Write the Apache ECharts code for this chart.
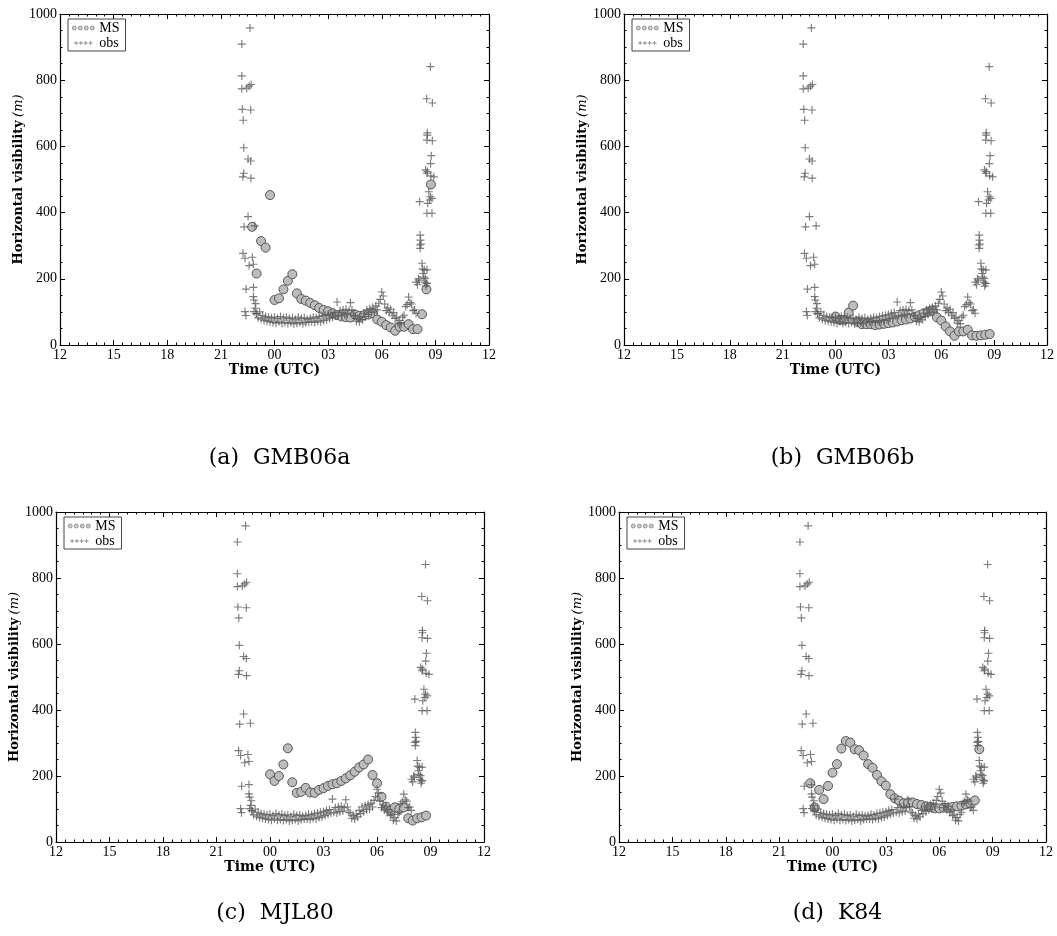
<!DOCTYPE html>
<html>
<head>
<meta charset="utf-8">
<script src="https://cdn.jsdelivr.net/npm/echarts@6/dist/echarts.min.js"></script>
<style>
html,body{margin:0;padding:0;background:#fff;}
#chart{width:1057px;height:936px;}
</style>
</head>
<body>
<div id="chart"></div>
<script>
// ---------- DATA ----------
// time axis in hours since 12 UTC of day 1 (24 = 00 UTC, 36 = 12 UTC next day)
var xTickLabels = ['12','15','18','21','00','03','06','09','12'];
var yTickLabels = ['0','200','400','600','800','1000'];
var panelCaptions = ['(a)  GMB06a', '(b)  GMB06b', '(c)  MJL80', '(d)  K84'];

// MS model output every 15 minutes
var msTimes = [22.75,23,23.25,23.5,23.75,24,24.25,24.5,24.75,25,25.25,25.5,25.75,26,26.25,26.5,26.75,27,27.25,27.5,27.75,
               28,28.25,28.5,28.75,29,29.25,29.5,29.75,30,30.25,30.5,30.75,31,31.25,31.5,31.75,32,32.25,32.5,32.75];
var msGMB06a = [357,216,314,294,453,136,141,168,194,214,156,139,134,127,120,112,106,102,96,90,86,
                84,83,92,88,90,92,96,77,70,60,53,43,55,55,63,48,48,93,168,485];
var msGMB06b = [null,null,null,null,null,86,76,76,98,119,70,63,63,63,60,62,64,66,68,71,75,
                77,80,85,90,96,101,104,84,74,56,41,28,41,41,46,29,28,29,31,33];
var msMJL80  = [null,null,null,null,null,205,185,200,235,284,181,149,152,164,150,149,158,163,170,175,178,
                185,193,202,213,226,235,250,203,178,137,107,95,105,100,105,72,65,72,75,80];
var msK84    = [178,105,158,130,170,210,236,283,306,301,281,278,262,236,225,203,184,171,145,132,125,
                117,120,120,115,112,108,106,102,102,104,104,106,108,110,114,117,126,281,null,null];

// observations: scattered points at fog onset and dissipation
var obsOnset = [[22.63,958],[22.17,909],[22.17,813],[22.17,774],[22.45,776],[22.58,782],[22.69,787],[22.2,712],[22.67,710],
  [22.25,679],[22.28,596],[22.52,562],[22.67,556],[22.28,519],[22.23,508],[22.68,504],[22.52,388],[22.3,357],[22.9,360],
  [22.24,277],[22.35,262],[22.76,265],[22.58,240],[22.82,244],[22.41,169],[22.82,174],[22.82,146],[22.85,136],[22.35,101],
  [22.4,89],[22.92,111],[22.85,101],[22.95,125],[22.97,95]];
var obsDissipation = [[31.93,190],[32.0,182],[32.05,200],[32.1,196],[32.12,433],[32.13,302],[32.15,332],[32.15,292],[32.17,317],
  [32.2,305],[32.25,247],[32.28,230],[32.31,216],[32.35,205],[32.38,227],[32.41,190],[32.44,201],[32.47,178],[32.5,185],
  [32.53,227],[32.53,186],[32.45,529],[32.55,524],[32.75,511],[32.53,519],[32.91,508],[32.57,428],[32.63,463],[32.68,438],
  [32.72,448],[32.81,443],[32.53,398],[32.81,398],[32.73,548],[32.77,572],[32.55,641],[32.55,634],[32.53,619],[32.83,617],
  [32.51,744],[32.83,731],[32.72,841]];
// observations: dense fog period, every 5 minutes from 23:00 UTC
var obsBandStart = 23.0;
var obsBandStepMin = 5;
var obsBandValues = [
  95,82,100,78,90,74,86,72,84,70,82,68,
  84,66,80,70,86,66,82,68,84,65,80,68,
  82,64,78,66,84,68,80,64,82,68,78,70,
  80,70,84,68,82,72,86,70,88,74,90,76,
  92,80,96,84,98,88,130,90,104,88,106,92,
  108,94,104,128,106,90,88,72,80,70,84,76,
  96,86,106,92,110,98,114,100,118,106,126,138,
  160,148,124,104,112,98,108,90,98,80,84,66,
  74,64,84,90,116,122,145,128,124,104,106,96];

// ---------- BUILD ----------
var obsData = obsOnset.slice();
obsBandValues.forEach(function(v, i){ obsData.push([obsBandStart + i*obsBandStepMin/60, v]); });
obsData = obsData.concat(obsDissipation);

var msSets = [msGMB06a, msGMB06b, msMJL80, msK84];
var grids = [
  {left:60, top:14, width:429, height:331},
  {left:624, top:14, width:427, height:331},
  {left:56, top:512, width:428, height:330},
  {left:619, top:512, width:427, height:330}
];

var tickFont = 'Liberation Serif';
var titleFont = 'DejaVu Serif';
var plusPath = 'path://M0,3H7V4H0Z M3,0H4V7H3Z';
var msLegendIcon = 'path://M0,2A2,2 0 1,0 4,2A2,2 0 1,0 0,2Z M6,2A2,2 0 1,0 10,2A2,2 0 1,0 6,2Z M12,2A2,2 0 1,0 16,2A2,2 0 1,0 12,2Z M18,2A2,2 0 1,0 22,2A2,2 0 1,0 18,2Z';
var obsLegendIcon = 'path://M0,2H5V3H0Z M2,0H3V5H2Z M6,2H11V3H6Z M8,0H9V5H8Z M12,2H17V3H12Z M14,0H15V5H14Z M18,2H23V3H18Z M20,0H21V5H20Z';

function xLab(v){ var k = Math.round((v - 12) / 3); return xTickLabels[k] || ''; }
function yLab(v){ var k = Math.round(v / 200); return yTickLabels[k] || ''; }

function mkAxis(gi, dim, pos, major, withLine, labelCfg, extra){
  var isX = dim === 'x';
  var a = {
    gridIndex:gi, type:'value',
    min: isX ? 12 : 0, max: isX ? 36 : 1000,
    interval: isX ? (major ? 3 : 0.5) : (major ? 200 : 50),
    position:pos,
    axisLine:{show:withLine, onZero:false, lineStyle:{color:'#000', width:1.2}},
    axisTick:{show:true, inside:true, length: major ? 5 : 2.5, lineStyle:{color:'#000', width:1}},
    minorTick:{show:false}, splitLine:{show:false}, minorSplitLine:{show:false},
    axisLabel: labelCfg || {show:false},
    axisPointer:{show:false}, silent:true
  };
  return Object.assign(a, extra || {});
}

var xAxes = [], yAxes = [], series = [], legends = [], titles = [];
grids.forEach(function(g, i){
  xAxes.push(mkAxis(i, 'x', 'bottom', true, true,
    {margin:3, color:'#000', fontFamily:tickFont, fontSize:14, formatter:xLab},
    {name:'Time (UTC)', nameLocation:'middle', nameGap:6,
     nameTextStyle:{fontFamily:titleFont, fontWeight:'bold', fontSize:14, color:'#000', verticalAlign:'top'}}));
  xAxes.push(mkAxis(i, 'x', 'bottom', false, false));
  xAxes.push(mkAxis(i, 'x', 'top', true, true));
  xAxes.push(mkAxis(i, 'x', 'top', false, false));
  yAxes.push(mkAxis(i, 'y', 'left', true, true,
    {margin:3, color:'#000', fontFamily:tickFont, fontSize:14, formatter:yLab},
    {name:'{b|Horizontal visibility} {i|(m)}', nameLocation:'middle', nameGap:30, nameRotate:90,
     nameTextStyle:{color:'#000', rich:{
       b:{fontFamily:titleFont, fontWeight:'bold', fontSize:13, color:'#000'},
       i:{fontFamily:titleFont, fontStyle:'italic', fontSize:13, color:'#000'}}}}));
  yAxes.push(mkAxis(i, 'y', 'left', false, false));
  yAxes.push(mkAxis(i, 'y', 'right', true, true));
  yAxes.push(mkAxis(i, 'y', 'right', false, false));

  var ms = msSets[i];
  var msData = [];
  msTimes.forEach(function(t, k){ if (ms[k] !== null) msData.push([t, ms[k]]); });
  series.push({
    name:'MS', type:'scatter', xAxisIndex:4*i, yAxisIndex:4*i, data:msData,
    symbol:'circle', symbolSize:9, z:2,
    itemStyle:{color:'#bcbcbc', borderColor:'#555', borderWidth:1, opacity:1},
    emphasis:{disabled:true}, animation:false
  });
  series.push({
    name:'obs', type:'scatter', xAxisIndex:4*i, yAxisIndex:4*i, data:obsData,
    symbol:plusPath, symbolSize:8, z:3,
    itemStyle:{color:'#5c5c5c', opacity:0.8},
    emphasis:{disabled:true}, animation:false
  });
  legends.push({
    left:g.left + 8, top:g.top + 5, orient:'vertical',
    itemWidth:22, itemHeight:4, itemGap:1,
    padding:[2,6,1,4], borderColor:'#444', borderWidth:1, backgroundColor:'#fff',
    selectedMode:false,
    textStyle:{fontFamily:tickFont, fontSize:14, lineHeight:12, color:'#000'},
    data:[{name:'MS', icon:msLegendIcon, itemStyle:{color:'#ccc', borderColor:'#666', borderWidth:0.6}},
          {name:'obs', icon:obsLegendIcon, itemStyle:{color:'#888', opacity:1}}]
  });
  titles.push({
    text:panelCaptions[i], left:g.left + g.width/2, textAlign:'center',
    top: i < 2 ? 442 : 897,
    textStyle:{fontFamily:titleFont, fontWeight:'normal', fontSize:22, color:'#000'}
  });
});

var chart = echarts.init(document.getElementById('chart'), null, {renderer:'canvas'});
chart.setOption({
  animation:false,
  backgroundColor:'#fff',
  title:titles,
  legend:legends,
  grid:grids,
  xAxis:xAxes,
  yAxis:yAxes,
  series:series
});
</script>
</body>
</html>
